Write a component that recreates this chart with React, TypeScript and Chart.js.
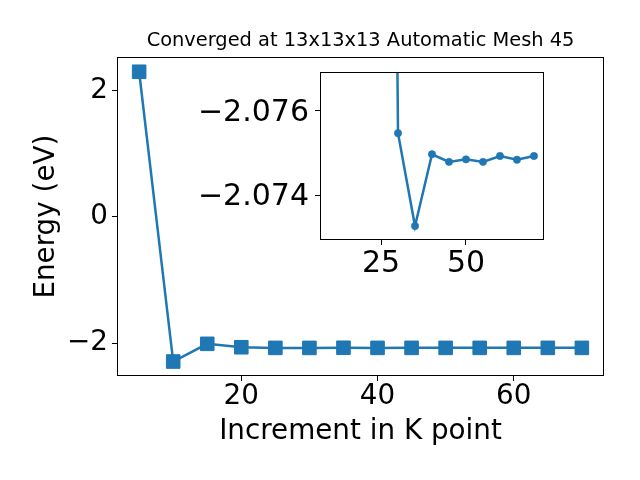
import React, { useEffect, useRef } from "react";
import { Chart, registerables } from "chart.js";

Chart.register(...registerables);

// ---- data ----
const kPoints = [5, 10, 15, 20, 25, 30, 35, 40, 45, 50, 55, 60, 65, 70];
const energy = [2.294, -2.291, -2.011, -2.065, -2.075, -2.0755, -2.0733, -2.075, -2.0748, -2.0749, -2.0748, -2.0749, -2.0748, -2.0749];

const insetK = [25, 30, 35, 40, 45, 50, 55, 60, 65, 70];
const insetEnergy = [-2.12, -2.07547, -2.07327, -2.07497, -2.07479, -2.07485, -2.07479, -2.07493, -2.07484, -2.07493];

const mainXTicks = [20, 40, 60];
const mainYTicks = [-2, 0, 2];
const insetXTicks = [25, 50];
const insetYTicks = [-2.076, -2.074];

const titleText = "Converged at 13x13x13 Automatic Mesh 45";
const xLabel = "Increment in K point";
const yLabel = "Energy (eV)";

const BLUE = "#1f77b4";
const FONT = "'DejaVu Sans', sans-serif";

const fmt = (v: number, d: number) => (v < 0 ? "\u2212" : "") + Math.abs(v).toFixed(d);

const framePlugin = {
  id: "frame",
  beforeDraw(chart: any, _a: any, opts: any) {
    if (opts && opts.fill) {
      const { left, top, right, bottom } = chart.chartArea;
      const ctx = chart.ctx;
      ctx.save();
      ctx.fillStyle = "#ffffff";
      ctx.fillRect(left, top, right - left, bottom - top);
      ctx.restore();
    }
  },
  afterDraw(chart: any) {
    const { left, top, right, bottom } = chart.chartArea;
    const ctx = chart.ctx;
    ctx.save();
    ctx.strokeStyle = "#000";
    ctx.lineWidth = 1;
    const l = Math.round(left) + 0.5;
    const t = Math.round(top) + 0.5;
    const r = Math.round(right) - 0.5;
    const b = Math.round(bottom) - 0.5;
    ctx.strokeRect(l, t, r - l, b - t);
    ctx.restore();
  },
};

function setTicks(values: number[]) {
  return (scale: any) => {
    scale.ticks = values.map((v) => ({ value: v }));
  };
}

export default function App() {
  const mainRef = useRef<HTMLCanvasElement>(null);
  const insetRef = useRef<HTMLCanvasElement>(null);

  useEffect(() => {
    Chart.defaults.font.family = FONT;
    Chart.defaults.color = "#000";

    const gridCommon = {
      display: true,
      drawOnChartArea: false,
      drawTicks: true,
      tickLength: 5,
      tickWidth: 1,
      tickColor: "#000",
      color: "#000",
    };

    const main = new Chart(mainRef.current as HTMLCanvasElement, {
      type: "line",
      data: {
        datasets: [
          {
            data: kPoints.map((k, i) => ({ x: k, y: energy[i] })),
            borderColor: BLUE,
            backgroundColor: BLUE,
            borderWidth: 2.5,
            pointStyle: "rect",
            pointRadius: 9.6,
            pointBorderWidth: 1,
            pointBorderColor: BLUE,
            pointBackgroundColor: BLUE,
            tension: 0,
          },
        ],
      },
      options: {
        animation: false,
        responsive: false,
        devicePixelRatio: 1,
        layout: { padding: { left: 0, right: 36, top: 0, bottom: 0 } },
        plugins: {
          legend: { display: false },
          tooltip: { enabled: false },
          title: {
            display: true,
            text: titleText,
            fullSize: false,
            color: "#000",
            font: { size: 19.4, weight: "normal", family: FONT, lineHeight: 1.2 },
            padding: { top: 29.4, bottom: 4.6 },
          },
          frame: {},
        } as any,
        scales: {
          x: {
            type: "linear",
            min: 1.75,
            max: 73.25,
            grid: gridCommon,
            border: { display: false },
            afterBuildTicks: setTicks(mainXTicks),
            afterFit: (s: any) => {
              s.height = 104;
            },
            ticks: {
              autoSkip: false,
              maxRotation: 0,
              padding: 2,
              font: { size: 27.8, family: FONT, lineHeight: 1 },
              color: "#000",
              callback: (v: any) => fmt(Number(v), 0),
            },
            title: {
              display: true,
              text: xLabel,
              color: "#000",
              font: { size: 27.8, family: FONT, lineHeight: 1.2 },
              padding: { top: 0, bottom: 31.9 },
            },
          },
          y: {
            type: "linear",
            min: -2.52,
            max: 2.523,
            grid: gridCommon,
            border: { display: false },
            afterBuildTicks: setTicks(mainYTicks),
            afterFit: (s: any) => {
              s.width = 117;
            },
            ticks: {
              autoSkip: false,
              padding: 4,
              font: { size: 27.8, family: FONT, lineHeight: 1 },
              color: "#000",
              callback: (v: any) => fmt(Number(v), 0),
            },
            title: {
              display: true,
              text: yLabel,
              color: "#000",
              font: { size: 27.8, family: FONT, lineHeight: 1.2 },
              padding: { top: 29.7, bottom: 0 },
            },
          },
        },
      },
      plugins: [framePlugin],
    } as any);

    const inset = new Chart(insetRef.current as HTMLCanvasElement, {
      type: "line",
      data: {
        datasets: [
          {
            data: insetK.map((k, i) => ({ x: k, y: insetEnergy[i] })),
            borderColor: BLUE,
            backgroundColor: BLUE,
            borderWidth: 2.5,
            pointStyle: "circle",
            pointRadius: 3.7,
            pointBorderWidth: 0.5,
            pointBorderColor: BLUE,
            pointBackgroundColor: BLUE,
            tension: 0,
            clip: 0,
          },
        ],
      },
      options: {
        animation: false,
        responsive: false,
        devicePixelRatio: 1,
        layout: { padding: { left: 0, right: 96, top: 72, bottom: 0 } },
        plugins: {
          legend: { display: false },
          tooltip: { enabled: false },
          title: { display: false },
          frame: { fill: true },
        } as any,
        scales: {
          x: {
            type: "linear",
            min: 7.05,
            max: 72.95,
            grid: gridCommon,
            border: { display: false },
            afterBuildTicks: setTicks(insetXTicks),
            afterFit: (s: any) => {
              s.height = 240;
            },
            ticks: {
              autoSkip: false,
              maxRotation: 0,
              padding: 4,
              font: { size: 30, family: FONT, lineHeight: 1 },
              color: "#000",
              callback: (v: any) => fmt(Number(v), 0),
            },
          },
          y: {
            type: "linear",
            reverse: true,
            min: -2.076918,
            max: -2.07294,
            grid: gridCommon,
            border: { display: false },
            afterBuildTicks: setTicks(insetYTicks),
            afterFit: (s: any) => {
              s.width = 320;
            },
            ticks: {
              autoSkip: false,
              padding: 6,
              labelOffset: 2,
              font: { size: 30, family: FONT, lineHeight: 1 },
              color: "#000",
              callback: (v: any) => fmt(Number(v), 3),
            },
          },
        },
      },
      plugins: [framePlugin],
    } as any);

    return () => {
      main.destroy();
      inset.destroy();
    };
  }, []);

  return (
    <div style={{ position: "absolute", left: 0, top: 0, width: 640, height: 480, background: "#fff" }}>
      <canvas ref={mainRef} width={640} height={480} style={{ position: "absolute", left: 0, top: 0 }} />
      <canvas
        ref={insetRef}
        width={640}
        height={480}
        style={{ position: "absolute", left: 0, top: 0, pointerEvents: "none" }}
      />
    </div>
  );
}
